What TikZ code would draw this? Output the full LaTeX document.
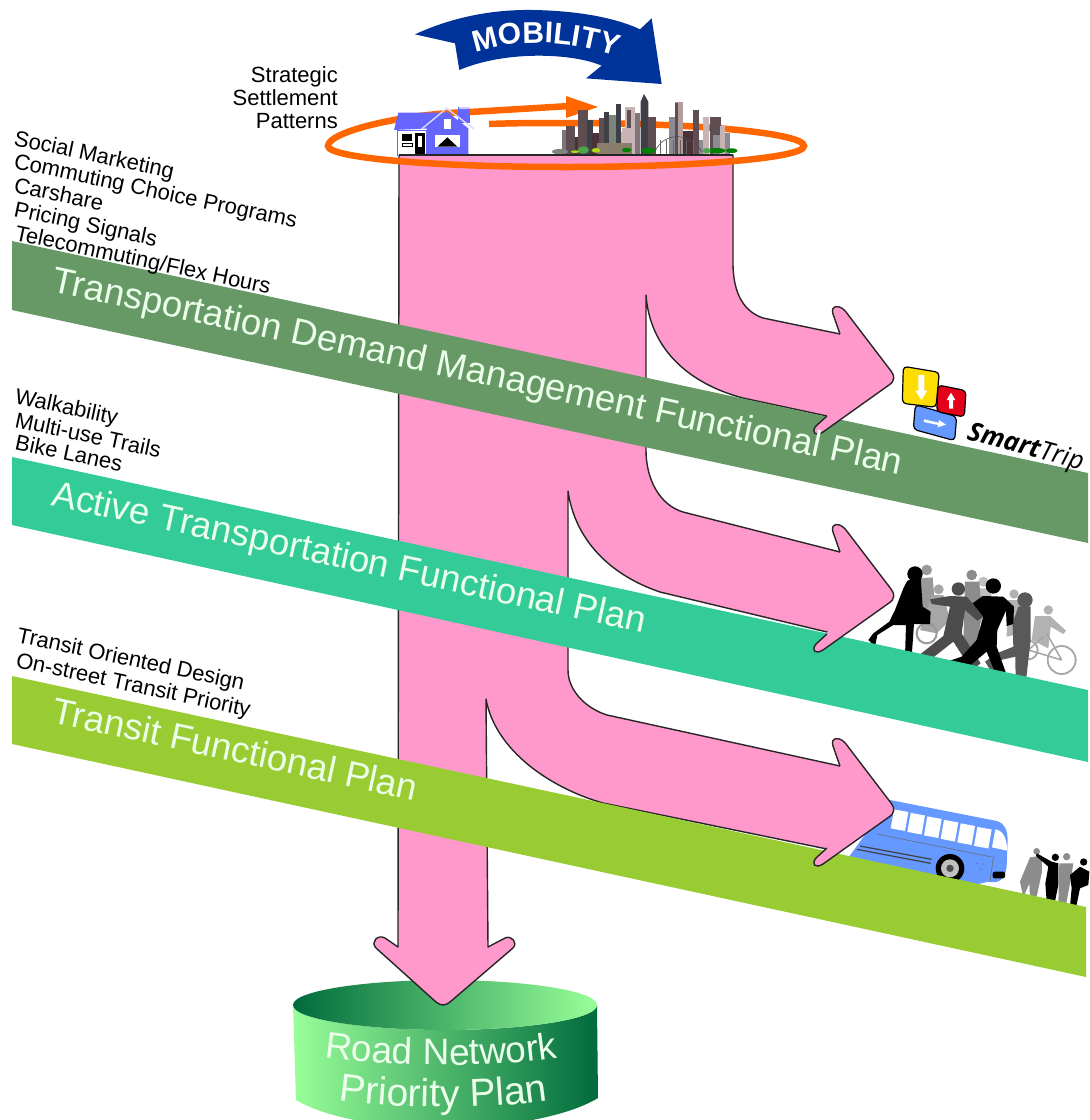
\documentclass[tikz,border=0pt]{standalone}
\usepackage{fontspec}
\setmainfont{Liberation Sans}
\usetikzlibrary{decorations.text}
\definecolor{pinkfill}{HTML}{FF99CC}
\definecolor{tdm}{HTML}{669966}
\definecolor{atp}{HTML}{33CC99}
\definecolor{trn}{HTML}{99CC33}
\definecolor{mob}{HTML}{003399}
\definecolor{ring}{HTML}{FF6600}
\definecolor{house}{HTML}{6666FF}
\definecolor{busblue}{HTML}{6699FF}
\definecolor{cyldark}{HTML}{006B3C}
\definecolor{cyllight}{HTML}{99FF99}
\definecolor{ca}{HTML}{3F3F48}
\definecolor{cb}{HTML}{5E4E52}
\definecolor{cc}{HTML}{7F7478}
\definecolor{cd}{HTML}{C8B4B4}
\definecolor{ce}{HTML}{8B8B93}
\definecolor{cf}{HTML}{4A3238}
\definecolor{cg}{HTML}{7C857A}
\definecolor{ch}{HTML}{B59C9C}
\definecolor{ci}{HTML}{8A7D6E}
\tikzset{
  pinkline/.style={fill=pinkfill,draw=black!85,line width=1.4pt,line join=round},
  bandtext/.style={anchor=base west,inner sep=0pt,text=white!92!green,font=\fontsize{36.6}{36.6}\selectfont},
  small/.style={anchor=base west,inner sep=0pt,text=black,font=\fontsize{22}{22}\selectfont,rotate=-12},
  strat/.style={anchor=base east,inner sep=0pt,text=black,font=\fontsize{22}{22}\selectfont},
  zc/.style={x=0.33333pt,y=-0.33333pt}
}
\newcommand{\headshape}{(840,334) -- (833,314) .. controls (830,305) and (840,304) .. (846,312) -- (891,371) .. controls (895,376) and (895,381) .. (889,385) -- (823,432) .. controls (815,437) and (811,432) .. (816,426) -- (827,416)}
\newcommand{\bld}[4]{\fill[#4] (#1,#3) rectangle ++(#2,465-#3);}
\newcommand{\curvedtext}[3]{\path[decorate,decoration={text along path,text align=center,text={|\color{white!92!green}\fontsize{#1}{#1}\selectfont|#2}}] #3;}
\begin{document}
\begin{tikzpicture}[x=1pt,y=-1pt]
\clip (0,0) rectangle (1090,1120);
\fill[white] (0,0) rectangle (1090,1120);

% cylinder
\shade[left color=cyllight,right color=cyldark] (293,1005) -- (296,1100) .. controls (330,1120) and (390,1128) .. (445,1128) .. controls (500,1128) and (565,1118) .. (598,1098) -- (597,1005) .. controls (597,1020) and (520,1030) .. (445,1030) .. controls (370,1030) and (293,1020) .. (293,1005) -- cycle;
\shade[left color=cyldark,right color=cyllight] (293,1005) .. controls (293,990) and (370,980) .. (445,980) .. controls (520,980) and (597,990) .. (597,1005) .. controls (597,1020) and (520,1030) .. (445,1030) .. controls (370,1030) and (293,1020) .. (293,1005) -- cycle;

% pink trunk with branches
\path[pinkline] (399,155) -- (733,155) -- (733,263) .. controls (733,295) and (745,312) .. (763,318) -- (840,334) -- (880,378) -- (827,416) -- (743,398) .. controls (690,384) and (650,350) .. (646,295)
 -- (646,450) .. controls (646,480) and (660,505) .. (683,512) -- (840,552) -- (880,596) -- (827,632) -- (660,592) .. controls (610,575) and (575,540) .. (568,491)
 -- (568,670) .. controls (568,690) and (585,708) .. (607,715) -- (840,766) -- (880,810) -- (827,849) -- (603,803) .. controls (550,788) and (495,750) .. (486,699)
 -- (488,947) -- (505,938) .. controls (512,935) and (518,943) .. (513,948) -- (450,1002) .. controls (445,1006) and (441,1006) .. (436,1002) -- (376,948) .. controls (370,942) and (378,934) .. (385,938) -- (398,947) -- cycle;

% bus
\begin{scope}[shift={(780,760)},zc]
\fill[busblue] (330,120) -- (650,183) .. controls (675,190) and (682,210) .. (683,240) -- (680,320) .. controls (675,360) and (655,372) .. (625,365) -- (560,380) -- (200,300) -- cycle;
\foreach \i in {0,1,2,3,4,5} {
  \fill[white,shift={(50*\i,10.5*\i)}] (342,148) -- (385,156) -- (375,213) -- (332,205) -- cycle;
}
\fill[white] (646,208) .. controls (670,212) and (680,235) .. (682,272) -- (636,262) -- cycle;
\draw[black!60,line width=.5pt] (290,222) -- (640,292) -- (630,365);
\draw[black!75,line width=1.2pt] (240,258) -- (455,298);
\draw[black!75,line width=1.2pt] (230,268) -- (452,310);
\fill[black] (510,325) circle (43);
\fill[white!75!black] (510,325) circle (27);
\fill[black!70] (510,325) circle (11);
\fill[black,rounded corners=2pt] (638,335) rectangle (675,355);
\fill[black!60] (592,310) circle (2) (608,312) circle (2) (602,328) circle (2);
\end{scope}

% people beside the bus
\begin{scope}[shift={(780,760)},zc]
\fill[black!45] (770,274) circle (10) (750,292) -- (785,287) -- (786,335) -- (770,410) -- (750,412) -- (748,370) -- (730,412) -- (720,365) -- cycle;
\fill[black!45] (860,290) circle (11) (838,310) -- (880,310) -- (872,360) -- (858,435) -- (835,430) -- cycle;
\fill[black] (826,292) circle (11) (770,280) -- (815,305) -- (835,310) -- (835,375) -- (825,425) -- (800,426) -- (796,370) -- (805,320) -- (768,288) -- cycle;
\fill[black] (911,306) circle (11) (870,345) -- (900,320) -- (928,335) -- (925,375) -- (900,385) -- (888,443) -- (870,440) -- (875,385) -- cycle;
\end{scope}

% walking people
\begin{scope}[shift={(780,340)},zc]
\fill[black!30] (805,810) circle (14) (765,828) -- (810,828) -- (858,872) -- (850,882) -- (812,860) -- (805,925) -- (755,900) -- cycle;
\draw[black!35,line width=1.8pt] (845,960) circle (42) (745,930) circle (28);
\draw[black!35,line width=1.5pt] (845,960) -- (800,880) (745,930) -- (790,890) (845,960) -- (745,930);
\fill[black!30] (702,762) circle (14) (682,780) -- (720,780) -- (725,880) -- (680,890) -- cycle;
\fill[black!25] (610,725) circle (15) (590,745) -- (630,745) -- (650,850) -- (600,850) -- cycle;
\fill[black!45] (575,705) circle (16) (555,725) -- (598,725) -- (605,820) -- (590,930) -- (550,920) -- cycle;
\fill[black!40] (440,690) circle (16) (415,715) -- (458,712) -- (468,830) -- (420,850) -- cycle;
\fill[black!35] (476,748) circle (15) (455,765) -- (490,765) -- (510,840) -- (470,880) -- (420,870) -- cycle;
\draw[black!40,line width=2pt] (440,880) circle (30);
\fill[black!65] (735,780) circle (23) (715,800) -- (752,800) -- (752,900) -- (737,1030) -- (707,1025) -- (706,950) -- (662,960) -- (640,1005) -- (615,965) -- (650,940) -- (700,920) -- (698,850) -- cycle;
\fill[black!70] (535,747) circle (20) (450,778) -- (510,768) -- (560,770) -- (612,830) -- (592,842) -- (555,810) -- (545,880) -- (602,970) -- (575,990) -- (520,905) -- (450,960) -- (418,945) -- (490,888) -- (510,800) -- (455,792) -- cycle;
\fill[black] (640,738) circle (23) (608,768) -- (670,770) -- (702,800) -- (700,852) -- (680,858) -- (678,812) -- (652,870) -- (650,920) -- (680,1005) -- (650,1010) -- (620,935) -- (560,985) -- (510,962) -- (545,950) -- (590,900) -- (610,830) -- (578,790) -- cycle;
\fill[black] (405,702) circle (23) (382,722) -- (422,712) -- (428,800) -- (452,815) -- (450,852) -- (402,852) -- (395,950) -- (375,950) -- (378,855) -- (340,855) -- (292,885) -- (285,920) -- (265,900) -- (280,880) -- (328,845) -- (345,810) -- (370,745) -- cycle;
\end{scope}

% bands
\fill[tdm] (12,241) -- (1088,473) -- (1088,543) -- (12,310) -- cycle;
\fill[atp] (12,457) -- (1088,690) -- (1088,762) -- (12,525) -- cycle;
\fill[trn] (12,676) -- (1086,907) -- (1086,977) -- (12,744) -- cycle;

% SmartTrip logo
\begin{scope}[shift={(780,340)},zc]
\draw[fill=yellow!80!orange,draw=black,line width=1.2pt,rounded corners=4pt] (370,79) -- (478,97) -- (468,202) -- (367,190) -- cycle;
\fill[white] (415,105) -- (433,105) -- (433,152) -- (442,152) -- (424,180) -- (406,152) -- (415,152) -- cycle;
\draw[fill=busblue,draw=black,line width=1.2pt,rounded corners=4pt] (406,194) -- (530,230) -- (524,302) -- (400,268) -- cycle;
\fill[white] (433,238) -- (475,248) -- (477,240) -- (498,254) -- (473,262) -- (474,255) -- (431,246) -- cycle;
\draw[fill=red!90!blue,draw=black,line width=1.2pt,rounded corners=4pt] (474,135) -- (558,152) -- (553,231) -- (470,215) -- cycle;
\fill[white] (513,158) -- (526,180) -- (519,180) -- (519,206) -- (507,206) -- (507,180) -- (500,180) -- cycle;
\end{scope}
\node[anchor=base west,inner sep=0pt,rotate=-15,font=\fontsize{26}{26}\selectfont\itshape] (smarttrip) at (966,439) {\fontspec{Open Sans}\bfseries Smart\mdseries Trip};

% arrow heads above the bands
\path[pinkline] \headshape;
\begin{scope}[shift={(0,218)}]\path[pinkline] \headshape;\end{scope}
\begin{scope}[shift={(0,432)}]\path[pinkline] \headshape;\end{scope}

% mobility arrow
\begin{scope}[shift={(320,0)},zc]
\fill[mob] (285,103) .. controls (400,50) and (520,28) .. (640,30) .. controls (760,32) and (880,50) .. (960,88) -- (995,55) -- (1025,252) -- (798,235) -- (845,197) .. controls (760,160) and (560,150) .. (418,210) -- (405,130) -- cycle;
\path[decorate,decoration={text along path,text align=center,text={|\color{white}\bfseries\fontsize{30}{30}\selectfont|MOBILITY}}] (430,172) .. controls (560,115) and (740,110) .. (925,182);
\end{scope}

% ring and inner arrow
\draw[ring,line width=6.5pt,line cap=butt] (489,124) .. controls (515,123) and (540,123) .. (566,123) .. controls (697,123) and (804,133) .. (804,146) .. controls (804,158) and (697,167) .. (566,167) .. controls (435,167) and (328,158) .. (328,146) .. controls (328,132) and (400,114) .. (470,112) -- (570,106);
\fill[ring] (566,96) -- (598,107) -- (566,118) -- cycle;

% house
\begin{scope}[shift={(320,0)},zc]
\fill[house] (415,322) rectangle (450,370);
\fill[white!80!blue] (418,320) rectangle (450,328);
\fill[house] (235,338) -- (395,338) -- (330,385) -- (222,390) -- cycle;
\draw[house,fill=white,line width=1pt] (233,390) rectangle (318,465);
\fill[house] (320,385) -- (380,335) -- (445,385) -- (445,465) -- (320,465) -- cycle;
\draw[white!85!blue,line width=1.4pt] (305,387) -- (380,325) -- (462,387);
\fill[white] (372,358) rectangle (392,388);
\fill[black] (246,402) rectangle (276,424);
\draw[black,line width=.6pt] (246,438) rectangle (276,430);
\fill[black] (285,398) rectangle (315,465);
\fill[white] (295,408) rectangle (305,440);
\fill[white] (345,405) rectangle (420,440);
\fill[black] (352,440) -- (382,412) -- (412,440) -- cycle;
\end{scope}

% city
\begin{scope}[shift={(320,0)},zc]
\bld{725}{14}{390}{cc}
\bld{738}{28}{378}{cb}
\bld{765}{14}{410}{cf}
\bld{775}{28}{330}{cb}
\bld{800}{18}{360}{ca}
\bld{815}{24}{400}{cf}
\bld{838}{16}{355}{cb}
\bld{852}{16}{335}{ca}
\bld{866}{22}{345}{cg}
\bld{888}{16}{313}{ca}
\bld{902}{14}{395}{cd}
\bld{915}{30}{320}{cd}
\bld{920}{14}{330}{cb}
\bld{905}{42}{385}{cd}
\bld{945}{14}{340}{cc}
\fill[ca] (962,305) -- (972,282) -- (985,305) -- (985,465) -- (962,465) -- cycle;
\bld{985}{22}{350}{cb}
\bld{830}{105}{428}{ci}
\bld{1048}{24}{350}{ce}
\bld{1065}{24}{305}{ch}
\bld{1065}{8}{308}{cb}
\bld{1088}{34}{392}{cf}
\bld{1120}{16}{330}{cb}
\bld{1136}{16}{420}{ce}
\bld{1150}{18}{350}{cd}
\bld{1170}{34}{350}{cb}
\bld{1180}{20}{405}{ce}
\bld{1200}{16}{378}{cd}
\bld{1215}{14}{400}{ce}
\draw[black!70,line width=.6pt] (1005,455) .. controls (1030,395) and (1110,395) .. (1145,455);
\foreach \x in {1020,1040,1060,1080,1100,1120} \draw[black!60,line width=.4pt] (\x,420) -- (\x,462);
\fill[cg] (720,455) ellipse (24 and 8);
\fill[black!50!green] (985,452) ellipse (20 and 9) (920,450) ellipse (14 and 7) (1235,452) ellipse (18 and 7) (1190,452) ellipse (26 and 8);
\fill[green!50!black!70] (790,450) ellipse (17 and 11) (1160,452) ellipse (12 and 8);
\fill[yellow!70!green] (765,455) ellipse (12 and 4) (828,451) ellipse (13 and 7);
\end{scope}
\draw[black!85,line width=1.4pt] (399,155) -- (733,155);

% texts
\node[bandtext,rotate=-12.2] (tdmt) at (50,291) {Transportation Demand Management Functional Plan};
\node[bandtext,rotate=-12.2] (atpt) at (50,505) {Active Transportation Functional Plan};
\node[bandtext,rotate=-12.2] (trnt) at (50,722) {Transit Functional Plan};

\node[strat] (s1) at (338,82) {Strategic};
\node[strat] (s2) at (338,105) {Settlement};
\node[strat] (s3) at (338,128) {Patterns};

\node[small] (d1) at (13,145) {Social Marketing};
\node[small] (d2) at (13,168) {Commuting Choice Programs};
\node[small] (d3) at (13,192) {Carshare};
\node[small] (d4) at (13,216) {Pricing Signals};
\node[small] (d5) at (14,240) {Telecommuting/Flex Hours};

\node[small] (a1) at (14,403) {Walkability};
\node[small] (a2) at (14,427) {Multi-use Trails};
\node[small] (a3) at (14,449) {Bike Lanes};

\node[small] (t1) at (16,642) {Transit Oriented Design};
\node[small] (t2) at (15,667) {On-street Transit Priority};

\curvedtext{37}{Road Network}{(315,1056) .. controls (390,1068) and (500,1068) .. (567,1056)}
\curvedtext{39}{Priority Plan}{(325,1098) .. controls (395,1110) and (500,1110) .. (562,1098)}
\end{tikzpicture}
\end{document}
